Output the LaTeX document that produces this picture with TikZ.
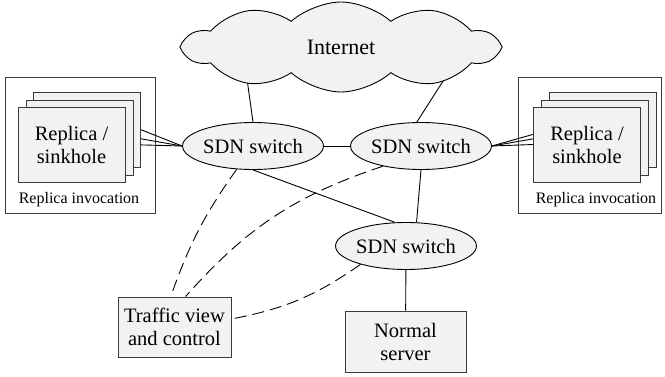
\documentclass[tikz,border=0pt]{standalone}
\usepackage{fontspec}
\setmainfont{Liberation Serif}
\usetikzlibrary{shapes.geometric,shapes.symbols,calc}
\definecolor{nodefill}{HTML}{F2F2F2}
\definecolor{edgecol}{HTML}{3A3A3A}
\pgfdeclarelayer{boxes}
\pgfdeclarelayer{lines}
\pgfsetlayers{boxes,lines,main}
\begin{document}
\begin{tikzpicture}[x=1pt,y=-1pt,
  every node/.style={font=\fontsize{20.5}{23}\selectfont},
  switch/.style={ellipse, draw=black, fill=nodefill, line width=0.9pt, minimum width=137pt, minimum height=47pt, inner sep=0pt},
  box/.style={rectangle, draw=edgecol, fill=nodefill, line width=0.9pt, align=center, inner sep=0pt},
  replica/.style={box, minimum width=107pt, minimum height=75pt},
  outerbox/.style={rectangle, draw=edgecol, fill=white, line width=0.9pt, inner sep=0pt, minimum height=136pt},
  link/.style={line width=0.9pt},
  ctrl/.style={line width=0.9pt, dash pattern=on 12pt off 6pt},
  small/.style={font=\fontsize{16}{18}\selectfont}]
\useasboundingbox (0,0) rectangle (665,377);

% replica groups
\begin{pgfonlayer}{boxes}
\node[outerbox, minimum width=150pt] (lgrp) at (80,145) {};
\node[outerbox, minimum width=143pt] (rgrp) at (589.5,145) {};
\end{pgfonlayer}
\node[small] (llab) at (79,200) {Replica invocation};
\node[small] (rlab) at (596,200) {Replica invocation};

\node[replica] (lb) at (86.5,129.5) {};
\node[replica] (lm) at (79.5,137.5) {};
\node[replica] (lf) at (71.5,144.5) {Replica /\\sinkhole};

\node[replica] (rb) at (602.5,130) {};
\node[replica] (rm) at (595,137.5) {};
\node[replica] (rf) at (587,144.5) {Replica /\\sinkhole};

% internet
\node[cloud, cloud puffs=10, cloud puff arc=85, aspect=3.4, draw=black, fill=nodefill, line width=0.9pt,
      minimum width=313pt, minimum height=90pt, inner sep=0pt, font=\fontsize{22}{24}\selectfont] (net) at (341,47) {Internet};
\coordinate (cl1) at (243,50);
\coordinate (cl2) at (463,50);

% switches
\node[switch] (sw1) at (253,146) {SDN switch};
\node[switch] (sw2) at (421,146) {SDN switch};
\node[switch] (sw3) at (406,246) {SDN switch};

% bottom boxes
\node[box, minimum width=113pt, minimum height=60pt] (tv) at (174.5,327) {Traffic view\\and control};
\node[box, minimum width=121pt, minimum height=61pt] (ns) at (405.5,341.5) {Normal\\server};

\begin{pgfonlayer}{lines}
\draw[link] (cl1) -- (sw1.north);
\draw[link] (cl2) -- (sw2.100);
\draw[link] (sw1) -- (sw2);
\draw[link] (sw1.south) -- (sw3.115);
\draw[link] (sw2.south) -- (sw3.66);
\draw[link] (sw3) -- (ns);
\foreach \r in {lb,lm,lf} \draw[link] (sw1.west) -- (\r.east);
\foreach \r in {rb,rm,rf} \draw[link] (sw2.east) -- (\r.west);
\draw[ctrl] (sw1.-125) to[bend right=8] (tv.97);
\draw[ctrl] (sw2.-152) to[bend right=15] (tv.70);
\draw[ctrl] (sw3.-158) to[bend left=12] (tv.8);
\end{pgfonlayer}
\end{tikzpicture}
\end{document}
